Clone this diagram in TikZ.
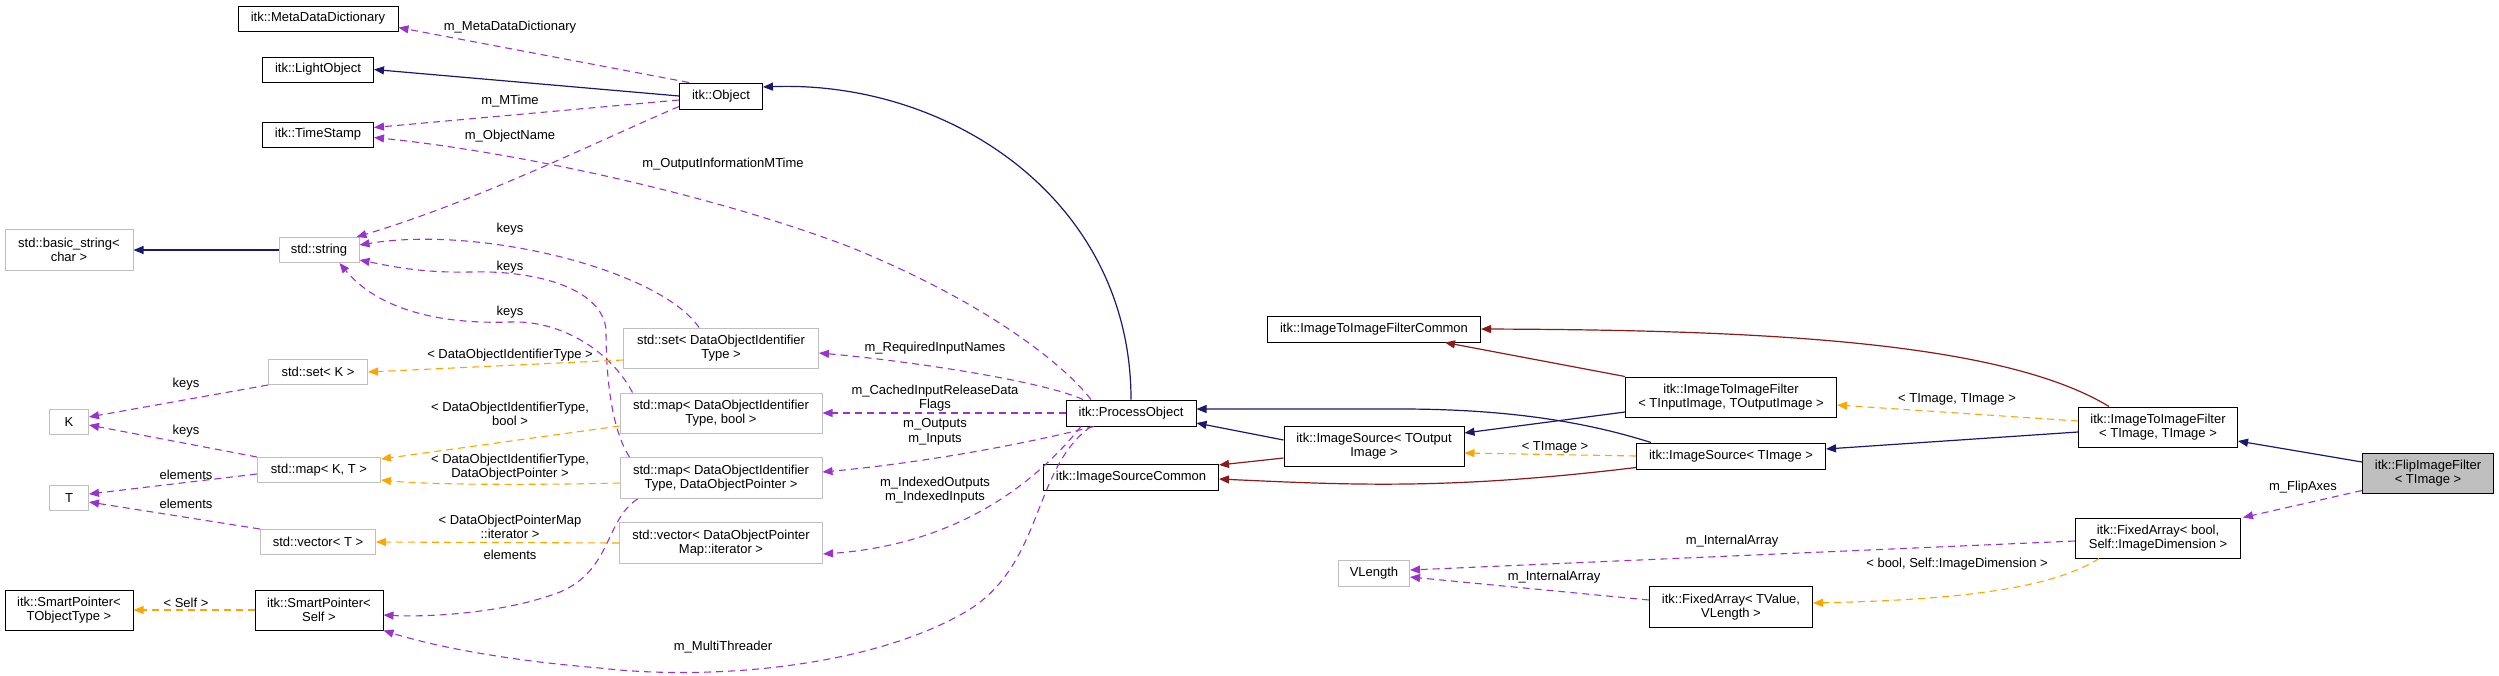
\documentclass[tikz,border=0pt]{standalone}
\usepackage{fontspec}
\setmainfont{Liberation Sans}
\usetikzlibrary{arrows.meta}
\definecolor{cblue}{HTML}{191970}
\definecolor{cpurp}{HTML}{9A32CD}
\definecolor{corng}{HTML}{FFA500}
\definecolor{cred}{HTML}{8B1A1A}
\definecolor{cgray}{HTML}{BFBFBF}
\newcommand{\fnt}{\fontsize{13}{14.5}\selectfont}
\begin{document}
\begin{tikzpicture}[x=1pt,y=-1pt,
  box/.style={draw=black, line width=1pt, fill=white, inner sep=1pt, align=center, font=\fnt},
  gbox/.style={box, draw=cgray},
  lbl/.style={font=\fnt, align=center, inner sep=0pt},
  tip/.style={-{Triangle[length=10pt,width=8pt]}},
  inh/.style={tip, draw=cblue, line width=1.2pt},
  red/.style={tip, draw=cred, line width=1.2pt},
  mem/.style={tip, draw=cpurp, line width=1.1pt, dash pattern=on 7pt off 5pt},
  tpl/.style={tip, draw=corng, line width=1.1pt, dash pattern=on 7pt off 5pt}]
\useasboundingbox (0,0) rectangle (2499,675);
% nodes
\node[box, minimum width=160pt, minimum height=25pt] (mdd) at (318,18.5) {itk::MetaDataDictionary};
\node[box, minimum width=111pt, minimum height=25pt] (light) at (318,69.5) {itk::LightObject};
\node[box, minimum width=111pt, minimum height=25pt] (ts) at (318,134.5) {itk::TimeStamp};
\node[box, minimum width=83pt, minimum height=26pt] (obj) at (721,96) {itk::Object};
\node[gbox, minimum width=128pt, minimum height=41pt] (bstr) at (69,250) {std::basic\_string<\\char >};
\node[gbox, minimum width=80pt, minimum height=25pt] (str) at (319,250) {std::string};
\node[gbox, minimum width=99pt, minimum height=25pt] (setK) at (318,372) {std::set< K >};
\node[gbox, minimum width=39pt, minimum height=25pt] (K) at (69,422) {K};
\node[gbox, minimum width=123pt, minimum height=25pt] (mapKT) at (319,470) {std::map< K, T >};
\node[gbox, minimum width=39pt, minimum height=25pt] (T) at (69,498) {T};
\node[gbox, minimum width=115pt, minimum height=25pt] (vecT) at (318,542) {std::vector< T >};
\node[box, minimum width=128pt, minimum height=40pt] (spT) at (69,610) {itk::SmartPointer<\\TObjectType >};
\node[box, minimum width=128pt, minimum height=40pt] (spS) at (319,610) {itk::SmartPointer<\\Self >};
\node[gbox, minimum width=195pt, minimum height=40pt] (setD) at (721,348) {std::set< DataObjectIdentifier\\Type >};
\node[gbox, minimum width=202pt, minimum height=40pt] (mapB) at (721,413) {std::map< DataObjectIdentifier\\Type, bool >};
\node[gbox, minimum width=202pt, minimum height=41pt] (mapD) at (721,478) {std::map< DataObjectIdentifier\\Type, DataObjectPointer >};
\node[gbox, minimum width=203pt, minimum height=41pt] (vecD) at (721,543) {std::vector< DataObjectPointer\\Map::iterator >};
\node[box, minimum width=130pt, minimum height=26pt] (po) at (1131,413) {itk::ProcessObject};
\node[box, minimum width=175pt, minimum height=26pt] (isc) at (1131,477) {itk::ImageSourceCommon};
\node[box, minimum width=180pt, minimum height=40pt] (iso) at (1374,446) {itk::ImageSource< TOutput\\Image >};
\node[box, minimum width=213pt, minimum height=26pt] (itifc) at (1374,329) {itk::ImageToImageFilterCommon};
\node[gbox, minimum width=71pt, minimum height=26pt] (vl) at (1374,573) {VLength};
\node[box, minimum width=211pt, minimum height=40pt] (itif1) at (1731,397) {itk::ImageToImageFilter\\< TInputImage, TOutputImage >};
\node[box, minimum width=189pt, minimum height=26pt] (ist) at (1731,456) {itk::ImageSource< TImage >};
\node[box, minimum width=159pt, minimum height=40pt] (itif2) at (2158,427) {itk::ImageToImageFilter\\< TImage, TImage >};
\node[box, fill=cgray, minimum width=131pt, minimum height=40pt] (flip) at (2428,473) {itk::FlipImageFilter\\< TImage >};
\node[box, minimum width=165pt, minimum height=40pt] (fab) at (2158,538) {itk::FixedArray< bool,\\Self::ImageDimension >};
\node[box, minimum width=163pt, minimum height=41pt] (fav) at (1731,607) {itk::FixedArray< TValue,\\VLength >};
% edges: Object
\draw[inh] (obj.west) -- (light.east);
\draw[mem] ([xshift=10pt]obj.north west) -- ([yshift=4pt]mdd.south east);
\draw[mem] ([yshift=-4pt]obj.west) -- ([yshift=7pt]ts.east);
\draw[mem] ([yshift=3pt]obj.south west) .. controls (600,140) and (480,200) .. ([xshift=-3pt]str.north east);
\draw[mem] ([xshift=-40pt]po.north) .. controls (1060,360) and (980,300) .. (850,247) .. controls (700,190) and (500,150) .. ([yshift=-3pt]ts.east);
\draw[inh] (po.north) .. controls (1131,200) and (950,80) .. ([yshift=9pt]obj.east);
\draw[inh] (str.west) -- (bstr.east);
% keys to string
\draw[mem] ([xshift=-22pt]setD.north) .. controls (660,270) and (480,225) .. ([yshift=5pt]str.east);
\draw[mem] ([xshift=10pt]mapD.north west) .. controls (612,430) and (606,380) .. (606,330) .. controls (603,290) and (540,270) .. (470,272) .. controls (420,273) and (390,266) .. ([yshift=3pt]str.south east);
\draw[mem] ([xshift=13pt]mapB.north west) .. controls (610,350) and (560,320) .. (510,322) .. controls (420,325) and (370,300) .. ([xshift=-20pt]str.south east);
\draw[mem] ([xshift=18pt]mapD.south west) .. controls (605,520) and (612,570) .. (560,592) .. controls (500,615) and (420,617) .. ([yshift=-5pt]spS.east);
% K and T
\draw[mem] (setK.south west) -- ([yshift=5pt]K.east);
\draw[mem] (mapKT.north west) -- ([yshift=-3pt]K.east);
\draw[mem] ([yshift=-4pt]mapKT.west) -- ([yshift=4pt]T.east);
\draw[mem] (vecT.north west) -- ([yshift=-4pt]T.east);
% templates left
\draw[tpl] ([yshift=-12pt]setD.west) -- (setK.east);
\draw[tpl] ([yshift=-13pt]mapB.west) -- ([yshift=-2pt]mapKT.north east);
\draw[tpl] ([yshift=-5pt]mapD.west) .. controls (540,485) and (430,485) .. ([yshift=-10pt]mapKT.east);
\draw[tpl] (vecD.west) -- (vecT.east);
\draw[tpl] (spS.west) -- (spT.east);
% ProcessObject members
\draw[mem] ([xshift=-48pt]po.north) .. controls (1040,380) and (900,360) .. ([yshift=-5pt]setD.east);
\draw[mem] (po.west) -- (mapB.east);
\draw[mem] ([xshift=-37pt]po.south) .. controls (1000,450) and (900,465) .. ([yshift=6pt]mapD.east);
\draw[mem] ([xshift=-50pt]po.south) .. controls (1030,490) and (950,545) .. ([yshift=-11pt]vecD.east);
\draw[mem] ([xshift=-40pt]po.south) .. controls (1030,470) and (1045,570) .. (960,615) .. controls (860,670) and (700,680) .. (600,668) .. controls (500,660) and (430,645) .. (spS.south east);
% right side
\draw[inh] ([yshift=6pt]iso.west) -- ([yshift=-10pt]po.east);
\draw[red] ([yshift=-12pt]iso.west) -- ([yshift=12pt]isc.east);
\draw[tpl] (ist.west) -- ([yshift=-7pt]iso.east);
\draw[inh] ([xshift=15pt]ist.north west) .. controls (1580,420) and (1500,409) .. (1400,409) -- ([yshift=4pt]po.east);
\draw[red] ([yshift=2pt]ist.south west) .. controls (1450,490) and (1350,485) .. ([yshift=-2pt]isc.east);
\draw[inh] ([yshift=-15pt]itif1.west) -- ([yshift=13pt]iso.east);
\draw[red] (itif1.north west) -- ([xshift=-36pt]itifc.south east);
\draw[tpl] ([yshift=6pt]itif2.west) -- ([yshift=-8pt]itif1.east);
\draw[inh] ([yshift=-5pt]itif2.west) -- ([yshift=7pt]ist.east);
\draw[red] ([xshift=31pt]itif2.north west) .. controls (2000,340) and (1750,330) .. (itifc.east);
\draw[inh] ([yshift=11pt]flip.west) -- ([yshift=-14pt]itif2.east);
\draw[mem] ([yshift=3pt]flip.south west) -- ([xshift=2pt]fab.north east);
\draw[mem] ([yshift=-3pt]fab.west) -- ([yshift=3pt]vl.east);
\draw[mem] ([yshift=7pt]fav.west) -- ([yshift=-4pt]vl.east);
\draw[tpl] ([xshift=24pt]fab.south west) .. controls (2050,590) and (1950,600) .. ([yshift=4pt]fav.east);
% labels
\node[lbl] (l1) at (510,27) {m\_MetaDataDictionary};
\node[lbl] (l2) at (510,101) {m\_MTime};
\node[lbl] (l3) at (510,136) {m\_ObjectName};
\node[lbl] (l4) at (723,164) {m\_OutputInformationMTime};
\node[lbl] (l5) at (510,229) {keys};
\node[lbl] (l6) at (510,267) {keys};
\node[lbl] (l7) at (510,312) {keys};
\node[lbl] (l8) at (510,355) {< DataObjectIdentifierType >};
\node[lbl] (l9) at (186,384) {keys};
\node[lbl] (l10) at (510,414) {< DataObjectIdentifierType,\\bool >};
\node[lbl] (l11) at (186,431) {keys};
\node[lbl] (l12) at (186,475) {elements};
\node[lbl] (l13) at (510,467) {< DataObjectIdentifierType,\\DataObjectPointer >};
\node[lbl] (l14) at (186,504) {elements};
\node[lbl] (l15) at (510,527) {< DataObjectPointerMap\\::iterator >};
\node[lbl] (l16) at (510,555) {elements};
\node[lbl] (l17) at (186,603) {< Self >};
\node[lbl] (l18) at (723,647) {m\_MultiThreader};
\node[lbl] (l19) at (935,348) {m\_RequiredInputNames};
\node[lbl] (l20) at (935,398) {m\_CachedInputReleaseData\\Flags};
\node[lbl] (l21) at (935,432) {m\_Outputs\\m\_Inputs};
\node[lbl] (l22) at (935,490) {m\_IndexedOutputs\\m\_IndexedInputs};
\node[lbl] (l23) at (1555,447) {< TImage >};
\node[lbl] (l24) at (1957,399) {< TImage, TImage >};
\node[lbl] (l25) at (1732,541) {m\_InternalArray};
\node[lbl] (l26) at (1554,577) {m\_InternalArray};
\node[lbl] (l27) at (1957,564) {< bool, Self::ImageDimension >};
\node[lbl] (l28) at (2303,487) {m\_FlipAxes};
\end{tikzpicture}
\end{document}
